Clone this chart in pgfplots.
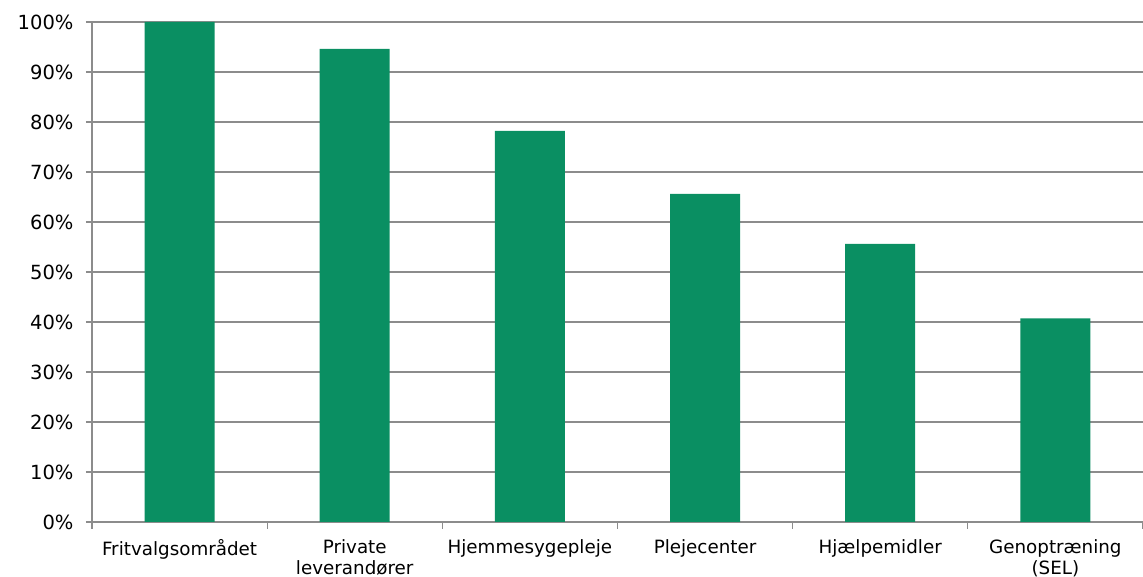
\documentclass[border=0pt]{standalone}
\usepackage{pgfplots}
\pgfplotsset{compat=1.18}
\usepackage{fontspec}
\setmainfont{DejaVu Sans}
\definecolor{barg}{HTML}{0A8F62}
\definecolor{gridg}{HTML}{8C8C8C}
\begin{document}
\begin{tikzpicture}
\begin{axis}[
  scale only axis,
  width=1051pt, height=500pt,
  ymin=0, ymax=100,
  xmin=-0.5, xmax=5.5,
  ytick={0,10,...,100},
  yticklabels={0\%,10\%,20\%,30\%,40\%,50\%,60\%,70\%,80\%,90\%,100\%},
  xtick={0,...,5},
  xticklabels={Fritvalgsområdet,Private\\leverandører,Hjemmesygepleje,Plejecenter,Hjælpemidler,Genoptræning\\(SEL)},
  minor xtick={-0.5,0.5,...,5.5},
  major x tick style={draw=none},
  minor x tick style={draw=gridg, line width=1.2pt},
  minor tick length=7pt,
  y tick style={draw=gridg, line width=1.2pt},
  major tick length=6pt,
  tick align=outside,
  axis x line*=bottom,
  axis y line*=left,
  axis line style={draw=gridg, line width=1.3pt},
  ymajorgrids,
  major grid style={draw=gridg, line width=1.3pt},
  xticklabel style={font=\fontsize{18.3}{21}\selectfont, text=black, align=center, yshift=-8pt},
  yticklabel style={font=\fontsize{19.5}{22}\selectfont, text=black, xshift=-9pt},
  separate axis lines,
  clip=false,
]
\addplot[ybar, bar width=70pt, fill=barg, draw=none] coordinates {
  (0,100) (1,94.6) (2,78.2) (3,65.6) (4,55.6) (5,40.7)
};
\end{axis}
\pgfresetboundingbox
\path[use as bounding box] (current axis.south west) ++(-92pt,-55pt) rectangle ++(1143pt,577pt);
\end{tikzpicture}
\end{document}
